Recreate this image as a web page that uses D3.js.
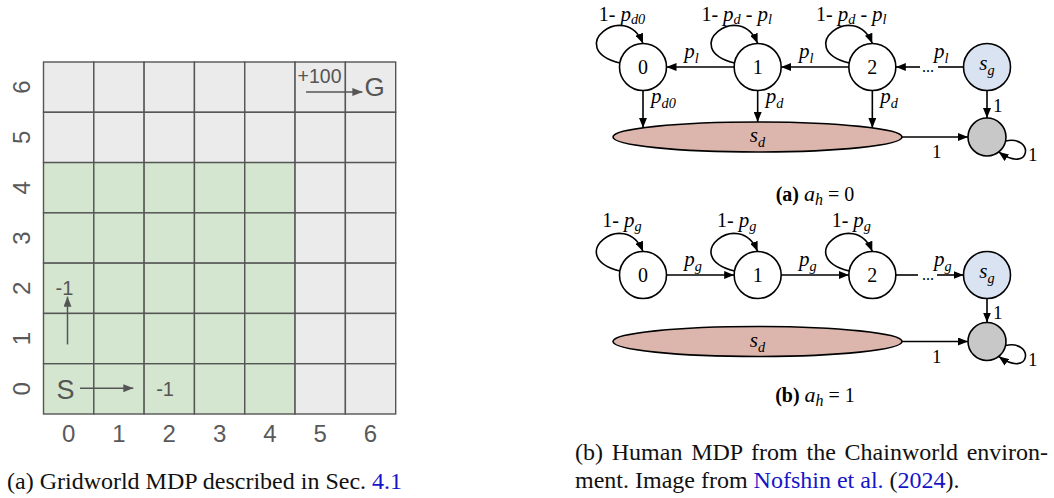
<!DOCTYPE html>
<html>
<head>
<meta charset="utf-8">
<script src="https://cdn.jsdelivr.net/npm/d3@7"></script>
<style>
  html, body { margin: 0; padding: 0; background: #fff; }
  svg { display: block; }
</style>
</head>
<body>
<svg id="fig" width="1054" height="498"></svg>
<script>
// ---- Gridworld data ----
const gridCols = [0, 1, 2, 3, 4, 5, 6];
const gridRows = [6, 5, 4, 3, 2, 1, 0];
// "g" = green start region, "w" = grey cells
const cellTypes = [
  "wwwwwww", // row 6
  "wwwwwww", // row 5
  "gggggww", // row 4
  "gggggww", // row 3
  "gggggww", // row 2
  "gggggww", // row 1
  "gggggww"  // row 0
];
const rewardLabels = [
  { col: 5, row: 6, text: "+100" },
  { col: 2, row: 0, text: "-1" },
  { col: 0, row: 2, text: "-1" }
];
const stateLabels = [
  { col: 6, row: 6, text: "G" },
  { col: 0, row: 0, text: "S" }
];
// moves: from cell -> toward cell
const moves = [
  { from: [0, 0], to: [1, 0] },
  { from: [0, 1], to: [0, 2] },
  { from: [5, 6], to: [6, 6] }
];

// ---- Chainworld data ----
const chainStates = ["0", "1", "2", "sg"];
const loopLabelsA = [
  ["1-", "p", "d0"],
  ["1-", "p", "d", "-", "p", "l"],
  ["1-", "p", "d", "-", "p", "l"]
];
const downLabelsA = [["p", "d0"], ["p", "d"], ["p", "d"]];
const sideLabelA = ["p", "l"];
const sideLabelB = ["p", "g"];
const loopLabelsB = [["1-", "p", "g"], ["1-", "p", "g"], ["1-", "p", "g"]];
const absorbProb = "1";

const svg = d3.select("#fig");
const defs = svg.append("defs");
function marker(id, color) {
  defs.append("marker")
    .attr("id", id).attr("viewBox", "0 0 10 8")
    .attr("refX", 10).attr("refY", 4)
    .attr("markerWidth", 10).attr("markerHeight", 8)
    .attr("markerUnits", "userSpaceOnUse")
    .attr("orient", "auto")
    .append("path").attr("d", "M0,0 L10,4 L0,8 Z").attr("fill", color);
}
marker("ahGrid", "#555");
marker("ahBlack", "#000");

// ================= Gridworld =================
const gx = d3.scaleBand().domain(gridCols).range([43.5, 395.7]);
const gy = d3.scaleBand().domain(gridRows).range([62, 414]);
const cw = gx.bandwidth(), ch = gy.bandwidth();
const GREEN = "#d4e6cf", GREY = "#ebebeb", LINE = "#555";

const cells = [];
gridRows.forEach((r, i) => gridCols.forEach((c, j) => cells.push({ r, c, t: cellTypes[i][j] })));
const gGrid = svg.append("g");
gGrid.selectAll("rect.cell").data(cells).join("rect")
  .attr("x", d => gx(d.c)).attr("y", d => gy(d.r))
  .attr("width", cw).attr("height", ch)
  .attr("fill", d => d.t === "g" ? GREEN : GREY)
  .attr("stroke", LINE).attr("stroke-width", 1.4);

// axis labels
gGrid.selectAll("text.xt").data(gridCols).join("text")
  .attr("x", d => gx(d) + cw / 2).attr("y", 442)
  .attr("text-anchor", "middle")
  .attr("font-family", "Liberation Sans, Arial, sans-serif")
  .attr("font-size", 24).attr("fill", "#595959")
  .text(d => d);
gGrid.selectAll("text.yt").data(gridRows).join("text")
  .attr("transform", d => `translate(30,${gy(d) + ch / 2}) rotate(-90)`)
  .attr("text-anchor", "middle")
  .attr("font-family", "Liberation Sans, Arial, sans-serif")
  .attr("font-size", 24).attr("fill", "#595959")
  .text(d => d);

// reward annotations
gGrid.selectAll("text.rw").data(rewardLabels).join("text")
  .attr("x", d => gx(d.col) + (d.text === "+100" ? 2.5 : 12))
  .attr("y", d => gy(d.row) + (d.text === "+100" ? 21 : 32))
  .attr("font-family", "Liberation Sans, Arial, sans-serif")
  .attr("font-size", d => d.text === "+100" ? 19.5 : 20)
  .attr("fill", "#555")
  .text(d => d.text);
gGrid.selectAll("text.st").data(stateLabels).join("text")
  .attr("x", d => gx(d.col) + (d.text === "G" ? 19 : 13))
  .attr("y", d => gy(d.row) + (d.text === "G" ? 34 : 35))
  .attr("font-family", "Liberation Sans, Arial, sans-serif")
  .attr("font-size", d => d.text === "G" ? 26 : 27)
  .attr("fill", "#555")
  .text(d => d.text);

// move arrows
moves.forEach(m => {
  const [c0, r0] = m.from, [c1, r1] = m.to;
  let x1, y1, x2, y2;
  if (r0 === r1) {
    if (c0 === 5) { // toward goal
      x1 = gx(c0) + 11; y1 = gy(r0) + 30; x2 = gx(c1) + 17; y2 = y1;
    } else {
      x1 = gx(c0) + 36.5; y1 = gy(r0) + 24.5; x2 = gx(c1) + 39.5; y2 = y1;
    }
  } else {
    x1 = gx(c0) + 24; y1 = gy(r0) + 31; x2 = x1; y2 = gy(r1) + 33.5;
  }
  gGrid.append("line")
    .attr("x1", x1).attr("y1", y1).attr("x2", x2).attr("y2", y2)
    .attr("stroke", "#555").attr("stroke-width", 1.5)
    .attr("marker-end", "url(#ahGrid)");
});

// caption (a)
const capA = svg.append("text").attr("x", 7).attr("y", 489)
  .attr("font-family", "Liberation Serif, Times New Roman, serif")
  .attr("font-size", 24).attr("fill", "#111");
capA.append("tspan").text("(a) Gridworld MDP described in Sec. ");
capA.append("tspan").attr("fill", "#1515c8").text("4.1");

// ================= Chainworld =================
const SERIF = "Liberation Serif, Times New Roman, serif";
const cx = d3.scalePoint().domain(chainStates).range([643, 987]);
const R = 23.5, RG = 19;
const ell = { cx: 757.5, rx: 144.5, ry: 15 };

// label built from pieces: plain "1-"/"-", italic symbol, italic subscript
function mathLabel(g, x, y, parts, anchor, size, subDrop) {
  const base = size || 20;
  const drop = subDrop || 5;
  const t = g.append("text").attr("x", x).attr("y", y)
    .attr("font-family", SERIF).attr("font-size", base)
    .attr("text-anchor", anchor || "start").attr("fill", "#000");
  let shifted = false;
  parts.forEach(p => {
    if (p === "1-" || p === "-") {
      t.append("tspan").attr("font-style", "normal").attr("font-size", base - 1)
        .attr("dy", shifted ? -drop : 0).text(p === "1-" ? "1- " : " - ");
      shifted = false;
    } else if (p === "p" || p === "s") {
      t.append("tspan").attr("font-style", "italic").attr("font-size", base)
        .attr("dy", shifted ? -drop : 0).text(p);
      shifted = false;
    } else {
      t.append("tspan").attr("font-style", "italic").attr("font-size", base * 0.68)
        .attr("dy", drop).text(p);
      shifted = true;
    }
  });
  return t;
}

function loopPath(x, y) {
  const a = 10 * Math.PI / 180;
  const s = [x - R * Math.cos(a), y - R * Math.sin(a)];
  return `M${s[0]},${s[1]} C${x - 80},${y - 18} ${x - 18},${y - 68} ${x},${y - R}`;
}
function grayLoop(x, y) {
  const a0 = 12 * Math.PI / 180, a1 = 52 * Math.PI / 180;
  return `M${x + RG * Math.cos(a0)},${y + RG * Math.sin(a0)} C${x + 48},${y - 2} ${x + 44},${y + 38} ${x + RG * Math.cos(a1)},${y + RG * Math.sin(a1)}`;
}

function drawChain(opts) {
  const g = svg.append("g");
  const cy = opts.cy, gy2 = opts.grayY;
  const chainNodes = chainStates.slice(0, 3);

  // ellipse s_d
  g.append("ellipse").attr("cx", ell.cx).attr("cy", gy2)
    .attr("rx", ell.rx).attr("ry", ell.ry)
    .attr("fill", "#dcb6ad").attr("stroke", "#000").attr("stroke-width", 1.6);
  mathLabel(g, ell.cx, gy2 + 5, ["s", "d"], "middle", 21);

  // horizontal chain edges
  for (let i = 0; i < 2; i++) {
    const a = cx(chainNodes[i]), b = cx(chainNodes[i + 1]);
    const line = opts.leftward ? [b - R, a + R] : [a + R, b - R];
    g.append("line").attr("x1", line[0]).attr("y1", cy).attr("x2", line[1]).attr("y2", cy)
      .attr("stroke", "#000").attr("stroke-width", 1.6).attr("marker-end", "url(#ahBlack)");
    mathLabel(g, (a + b) / 2 - 16, cy - 9, opts.side, "start", 21);
  }
  // node 2 <-> s_g with ellipsis
  const n2 = cx("2"), sg = cx("sg");
  if (opts.leftward) {
    g.append("line").attr("x1", sg - R).attr("y1", cy).attr("x2", 938).attr("y2", cy)
      .attr("stroke", "#000").attr("stroke-width", 1.6);
    g.append("line").attr("x1", 920).attr("y1", cy).attr("x2", n2 + R).attr("y2", cy)
      .attr("stroke", "#000").attr("stroke-width", 1.6).attr("marker-end", "url(#ahBlack)");
  } else {
    g.append("line").attr("x1", n2 + R).attr("y1", cy).attr("x2", 918).attr("y2", cy)
      .attr("stroke", "#000").attr("stroke-width", 1.6);
    g.append("line").attr("x1", 937).attr("y1", cy).attr("x2", sg - R).attr("y2", cy)
      .attr("stroke", "#000").attr("stroke-width", 1.6).attr("marker-end", "url(#ahBlack)");
  }
  g.append("text").attr("x", 928).attr("y", cy + 5).attr("text-anchor", "middle")
    .attr("font-family", SERIF).attr("font-size", 16).text("...");
  mathLabel(g, 934, cy - 9, opts.side, "start", 21);

  // self loops
  chainNodes.forEach((n, i) => {
    g.append("path").attr("d", loopPath(cx(n), cy))
      .attr("fill", "none").attr("stroke", "#000").attr("stroke-width", 1.6)
      .attr("marker-end", "url(#ahBlack)");
    mathLabel(g, cx(n) - 21, cy - opts.loopLift, opts.loops[i], "middle", 21, 3.5);
  });

  // drop edges into s_d
  if (opts.down) {
    chainNodes.forEach((n, i) => {
      const x = cx(n);
      const dx = (x - ell.cx) / ell.rx;
      const yTop = gy2 - ell.ry * Math.sqrt(1 - dx * dx);
      g.append("line").attr("x1", x).attr("y1", cy + R).attr("x2", x).attr("y2", yTop)
        .attr("stroke", "#000").attr("stroke-width", 1.6).attr("marker-end", "url(#ahBlack)");
      mathLabel(g, x + 8, cy + 36, opts.down[i], "start", 21);
    });
  }

  // nodes
  chainNodes.forEach(n => {
    g.append("circle").attr("cx", cx(n)).attr("cy", cy).attr("r", R)
      .attr("fill", "#fff").attr("stroke", "#000").attr("stroke-width", 1.6);
    g.append("text").attr("x", cx(n)).attr("y", cy + 6.5).attr("text-anchor", "middle")
      .attr("font-family", SERIF).attr("font-size", 20).text(n);
  });
  g.append("circle").attr("cx", sg).attr("cy", cy).attr("r", R)
    .attr("fill", "#dae3f2").attr("stroke", "#000").attr("stroke-width", 1.6);
  mathLabel(g, sg, cy + 3, ["s", "g"], "middle", 21);

  // absorbing state
  g.append("line").attr("x1", sg).attr("y1", cy + R).attr("x2", sg).attr("y2", gy2 - RG)
    .attr("stroke", "#000").attr("stroke-width", 1.6).attr("marker-end", "url(#ahBlack)");
  g.append("text").attr("x", sg + 6).attr("y", (cy + R + gy2 - RG) / 2 + 8)
    .attr("font-family", SERIF).attr("font-size", 19).text(absorbProb);
  g.append("line").attr("x1", ell.cx + ell.rx).attr("y1", gy2).attr("x2", sg - RG).attr("y2", gy2)
    .attr("stroke", "#000").attr("stroke-width", 1.6).attr("marker-end", "url(#ahBlack)");
  g.append("text").attr("x", 932).attr("y", gy2 + 21)
    .attr("font-family", SERIF).attr("font-size", 19).text(absorbProb);
  g.append("path").attr("d", grayLoop(sg, gy2))
    .attr("fill", "none").attr("stroke", "#000").attr("stroke-width", 1.6)
    .attr("marker-end", "url(#ahBlack)");
  g.append("circle").attr("cx", sg).attr("cy", gy2).attr("r", RG)
    .attr("fill", "#c8c8c8").attr("stroke", "#000").attr("stroke-width", 1.6);
  g.append("text").attr("x", sg + 41).attr("y", gy2 + 24)
    .attr("font-family", SERIF).attr("font-size", 19).text(absorbProb);

  // sub caption
  const t = svg.append("text").attr("x", 815).attr("y", opts.capY).attr("text-anchor", "middle")
    .attr("font-family", SERIF).attr("font-size", 20);
  t.append("tspan").attr("font-weight", "bold").text(opts.capTag + " ");
  t.append("tspan").attr("font-style", "italic").attr("font-size", 22).text("a");
  t.append("tspan").attr("font-style", "italic").attr("font-size", 16).attr("dy", 4).text("h");
  t.append("tspan").attr("dy", -4).text(" = " + opts.capVal);
}

drawChain({
  cy: 67, grayY: 137, leftward: true, side: sideLabelA,
  loops: loopLabelsA, loopLift: 46.5, down: downLabelsA,
  capY: 201, capTag: "(a)", capVal: "0"
});
drawChain({
  cy: 275, grayY: 341.5, leftward: false, side: sideLabelB,
  loops: loopLabelsB, loopLift: 48, down: null,
  capY: 402, capTag: "(b)", capVal: "1"
});

// caption (b), justified first line
const capB1 = svg.append("text").attr("x", 575).attr("y", 460)
  .attr("font-family", SERIF).attr("font-size", 24).attr("fill", "#111")
  .text("(b) Human MDP from the Chainworld environ-");
const natural = capB1.node().getComputedTextLength();
const spaces = 6;
capB1.attr("word-spacing", (1048 - 575 - natural) / spaces);
const capB2 = svg.append("text").attr("x", 575).attr("y", 488)
  .attr("font-family", SERIF).attr("font-size", 24).attr("fill", "#111");
capB2.append("tspan").text("ment. Image from ");
capB2.append("tspan").attr("fill", "#1515c8").text("Nofshin et al.");
capB2.append("tspan").text(" (");
capB2.append("tspan").attr("fill", "#1515c8").text("2024");
capB2.append("tspan").text(").");
</script>
</body>
</html>
